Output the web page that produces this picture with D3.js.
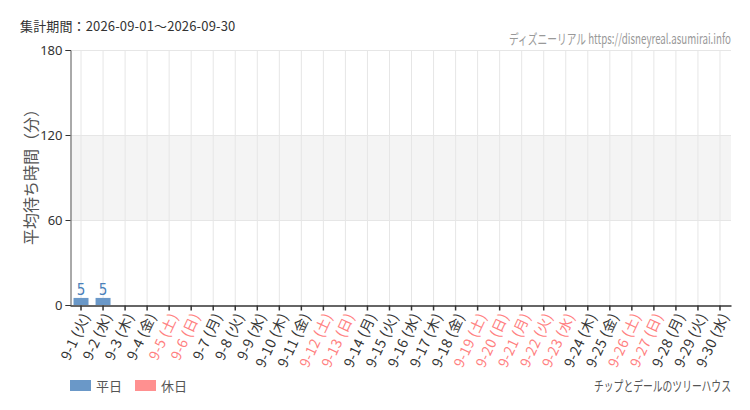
<!DOCTYPE html>
<html>
<head>
<meta charset="utf-8">
<script src="https://cdn.jsdelivr.net/npm/d3@7"></script>
<style>
  body { margin: 0; background: #fff; }
  text { font-family: "Noto Sans CJK JP", "Noto Sans", sans-serif; }
</style>
</head>
<body>
<svg width="750" height="410"></svg>
<script>
const days = d3.range(1, 31).map(d => "9-" + d);
const weekdays = ["火","水","木","金","土","日","月","火","水","木","金","土","日","月","火","水","木","金","土","日","月","火","水","木","金","土","日","月","火","水"];
const holidays = [5, 6, 12, 13, 19, 20, 21, 22, 23, 26, 27];
const waitValues = [5, 5, null, null, null, null, null, null, null, null, null, null, null, null, null, null, null, null, null, null, null, null, null, null, null, null, null, null, null, null];
const yTicks = [0, 60, 120, 180];

const weekdayColor = "#6a98c8";
const holidayColor = "#ff9090";

const svg = d3.select("svg");
const margin = { left: 70, right: 19, top: 50, bottom: 105 };
const width = 750, height = 410;

const x = d3.scaleBand()
    .domain(days)
    .range([margin.left, width - margin.right]);

const y = d3.scaleLinear()
    .domain([0, 180])
    .range([height - margin.bottom, margin.top]);

// band 60-120
svg.append("rect")
    .attr("x", margin.left)
    .attr("y", y(120))
    .attr("width", width - margin.right - margin.left)
    .attr("height", y(60) - y(120))
    .attr("fill", "#f4f4f4");

// grid lines
svg.append("g")
    .selectAll("line")
    .data(yTicks.filter(t => t > 0))
    .enter().append("line")
    .attr("x1", margin.left)
    .attr("x2", width - margin.right)
    .attr("y1", d => y(d) + 0.5)
    .attr("y2", d => y(d) + 0.5)
    .attr("stroke", "#e6e6e6");

svg.append("g")
    .selectAll("line")
    .data(days)
    .enter().append("line")
    .attr("x1", d => x(d) + x.bandwidth() / 2)
    .attr("x2", d => x(d) + x.bandwidth() / 2)
    .attr("y1", margin.top)
    .attr("y2", height - margin.bottom)
    .attr("stroke", "#e6e6e6");

// bars
const barData = days.map((d, i) => ({ day: d, value: waitValues[i], holiday: holidays.includes(i + 1) }))
    .filter(d => d.value != null);

const barW = x.bandwidth() * 0.68;

svg.append("g")
    .selectAll("rect")
    .data(barData)
    .enter().append("rect")
    .attr("x", d => x(d.day) + x.bandwidth() / 2 - barW / 2)
    .attr("y", d => y(d.value))
    .attr("width", barW)
    .attr("height", d => y(0) - y(d.value))
    .attr("fill", d => d.holiday ? holidayColor : weekdayColor);

svg.append("g")
    .selectAll("text")
    .data(barData)
    .enter().append("text")
    .attr("x", d => x(d.day) + x.bandwidth() / 2)
    .attr("y", d => y(d.value) - 3)
    .attr("text-anchor", "middle")
    .attr("font-size", 15)
    .style("font-family", "'DejaVu Sans Condensed', 'Liberation Sans Narrow', sans-serif")
    .attr("fill", d => d.holiday ? "#f07070" : "#4a80ba")
    .text(d => d.value);

// y axis
const yAxis = svg.append("g")
    .attr("transform", `translate(${margin.left + 0.5},0)`)
    .call(d3.axisLeft(y).tickValues(yTicks).tickSize(5).tickPadding(3));
yAxis.select(".domain").attr("stroke", "#555");
yAxis.selectAll(".tick line").attr("stroke", "#333");
yAxis.selectAll(".tick text")
    .attr("font-size", 13)
    .attr("fill", "#333")
    .style("font-family", "'Noto Sans', sans-serif");

// x axis
const xAxis = svg.append("g")
    .attr("transform", `translate(0,${height - margin.bottom + 0.5})`)
    .call(d3.axisBottom(x).tickSize(5).tickSizeOuter(0).tickFormat(""));
xAxis.select(".domain").attr("stroke", "#333").attr("stroke-width", 1.5);
xAxis.selectAll(".tick line").attr("stroke", "#333").attr("stroke-width", 1.5);

svg.append("g")
    .selectAll("text")
    .data(days)
    .enter().append("text")
    .attr("transform", d => `translate(${x(d) + x.bandwidth() / 2 + 5},${height - margin.bottom + 9}) rotate(-65)`)
    .attr("text-anchor", "end")
    .attr("dy", "0.35em")
    .attr("font-size", 14)
    .style("letter-spacing", "0.4px")
    .attr("fill", (d, i) => holidays.includes(i + 1) ? "#ff8080" : "#333")
    .text((d, i) => d + " (" + weekdays[i] + ")");

// y axis title
svg.append("text")
    .attr("transform", `translate(37,173) rotate(-90)`)
    .attr("text-anchor", "middle")
    .attr("font-size", 16)
    .attr("fill", "#555")
    .text("平均待ち時間（分）");

// header
svg.append("text")
    .attr("x", 20)
    .attr("y", 31)
    .attr("font-size", 13)
    .attr("fill", "#333")
    .style("letter-spacing", "0.15px")
    .text("集計期間：2026-09-01～2026-09-30");

// narrow text: squeeze horizontally to a given width, right aligned
function narrowText(str, rightX, baseY, w, size, color) {
    const t = svg.append("text")
        .attr("font-size", size)
        .attr("fill", color)
        .text(str);
    const natural = t.node().getComputedTextLength();
    const k = w / natural;
    t.attr("transform", `translate(${rightX - w},${baseY}) scale(${k},1)`);
    return t;
}

narrowText("ディズニーリアル https://disneyreal.asumirai.info", width - margin.right, 44, 222, 14, "#999");
narrowText("チップとデールのツリーハウス", width - margin.right, 391, 137, 14, "#555");

// legend
const legend = [{ label: "平日", color: weekdayColor }, { label: "休日", color: holidayColor }];
const lg = svg.append("g")
    .selectAll("g")
    .data(legend)
    .enter().append("g")
    .attr("transform", (d, i) => `translate(${70 + i * 65},380)`);
lg.append("rect")
    .attr("width", 21)
    .attr("height", 11)
    .attr("fill", d => d.color);
lg.append("text")
    .attr("x", 26)
    .attr("y", 6)
    .attr("dy", "0.35em")
    .attr("font-size", 13)
    .attr("fill", "#555")
    .text(d => d.label);
</script>
</body>
</html>
